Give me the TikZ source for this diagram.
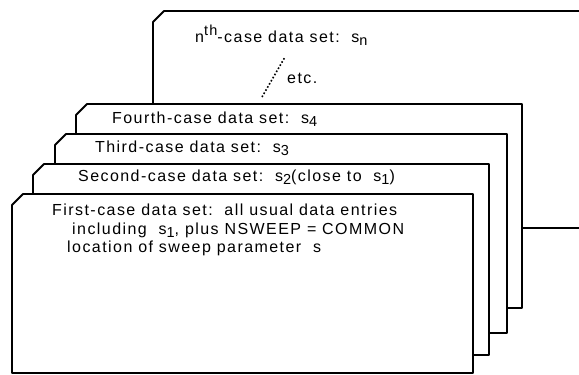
\documentclass[tikz,border=0pt]{standalone}
\usepackage{fontspec}
\setmainfont[LetterSpace=9]{Liberation Sans}
\newcommand\dsub[1]{\raisebox{-0.45ex}{\fontsize{14.5}{14.5}\selectfont #1}}
\newcommand\dsup[1]{\raisebox{0.75ex}{\fontsize{14.5}{14.5}\selectfont #1}}
\tikzset{
  card/.style={draw=black, fill=white, line width=1.8pt, line join=round},
  lbl/.style={anchor=base west, inner sep=0pt, font=\fontsize{16}{18}\selectfont},
}
\begin{document}
\begin{tikzpicture}[x=1pt,y=-1pt]
\useasboundingbox (0,0) rectangle (579,375);
\clip (0,0) rectangle (579,375);
\fill[white] (0,0) rectangle (579,375);
% cards, back to front
\draw[card] (153,22) -- (164,11) -- (600,11) -- (600,228) -- (153,228) -- cycle;
\draw[card] (76,115) -- (87,104) -- (522,104) -- (522,308) -- (76,308) -- cycle;
\draw[card] (55,145) -- (66,134) -- (507,134) -- (507,333) -- (55,333) -- cycle;
\draw[card] (33,175) -- (44,164) -- (489,164) -- (489,355) -- (33,355) -- cycle;
\draw[card] (12,205) -- (23,194) -- (473,194) -- (473,373) -- (12,373) -- cycle;
% texts
\node[lbl] (tn) at (195,42) {n\dsup{th}-case data set:\ \ s\dsub{n}};
\node[lbl] (etc) at (287,83) {etc.};
\coordinate (d1) at (262,97);
\coordinate (d2) at (285,57);
\draw[line width=1.6pt, dotted] (d1) -- (d2);
\node[lbl] (t4) at (112,123) {Fourth-case data set:\ \ s\dsub{4}};
\node[lbl] (t3) at (95,152) {Third-case data set:\ \ s\dsub{3}};
\node[lbl] (t2) at (78,181) {Second-case data set:\ \ s\dsub{2}(close to\ \ s\dsub{1})};
\node[lbl] (t1a) at (52,215) {First-case data set:\ \ all usual data entries};
\node[lbl] (t1b) at (72,234) {including\ \ s\dsub{1}, plus NSWEEP = COMMON};
\node[lbl] (t1c) at (67,252) {location of sweep parameter\ \ s};
\end{tikzpicture}
\end{document}
